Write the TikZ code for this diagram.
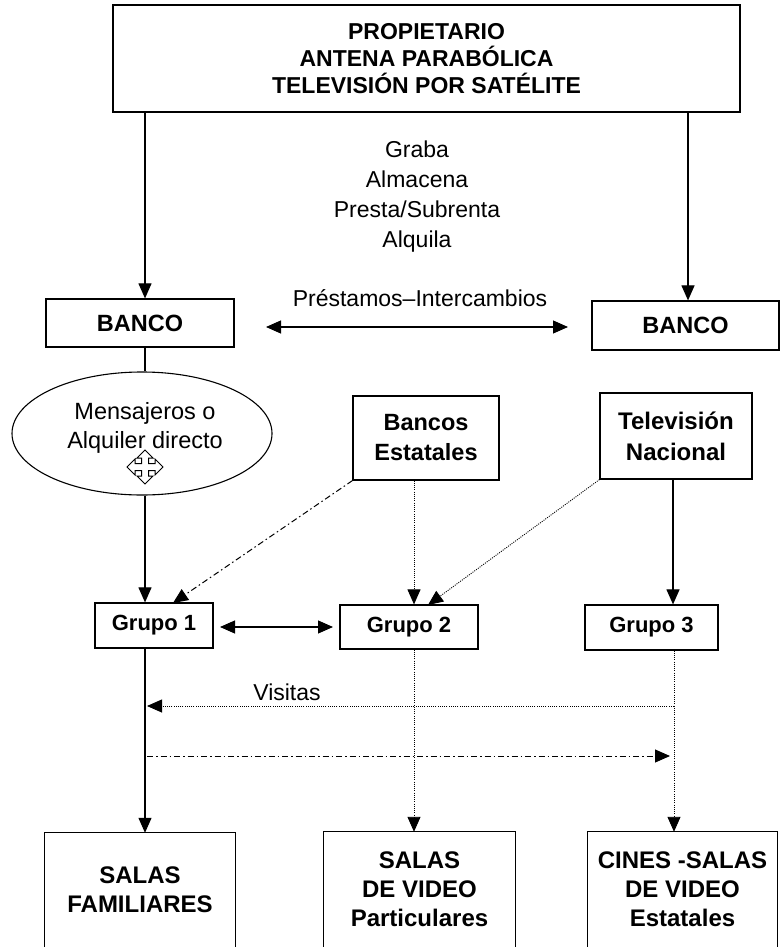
\documentclass[tikz,border=0pt]{standalone}
\usepackage{fontspec}
\setmainfont{Liberation Sans}
\usetikzlibrary{arrows.meta,shapes.geometric}
\begin{document}
\begin{tikzpicture}[x=1pt,y=-1pt,
  box/.style={draw,line width=1.2pt,align=center,inner sep=0pt,font=\bfseries\fontsize{23.5}{29}\selectfont},
  openbox/.style={draw=none,align=center,inner sep=0pt,font=\bfseries\fontsize{24}{29}\selectfont},
  lbl/.style={align=center,inner sep=0pt,font=\fontsize{23}{30}\selectfont},
  conn/.style={line width=1.1pt},
  arr/.style={line width=1.1pt,-{Triangle[length=15pt,width=13pt]}},
  darr/.style={line width=1.1pt,{Triangle[length=15pt,width=13pt]}-{Triangle[length=15pt,width=13pt]}},
  dotln/.style={line width=0.9pt,dash pattern=on 1pt off 1.2pt},
  dashdot/.style={line width=1pt,dash pattern=on 6pt off 3pt on 1.5pt off 3pt},
  tip/.style={-{Triangle[length=15pt,width=13pt]}}
]
\useasboundingbox (0,0) rectangle (779,947);
\fill[white] (0,0) rectangle (779,947);

% x positions
\coordinate (xL) at (145,0);
\coordinate (xR) at (688,0);
\coordinate (xG2) at (414,0);
\coordinate (xG3) at (674,0);

% nodes
\node[box,minimum width=627pt,minimum height=107pt,font=\bfseries\fontsize{23}{27}\selectfont] (top) at (426.5,58.5)
  {PROPIETARIO\\ANTENA PARABÓLICA\\TELEVISIÓN POR SATÉLITE};
\node[lbl] (acts) at (417,197) {Graba\\Almacena\\Presta/Subrenta\\Alquila};
\node[box,minimum width=188pt,minimum height=48pt] (bancoL) at (140,323) {BANCO};
\node[box,minimum width=187pt,minimum height=49pt] (bancoR) at (685.5,325.5) {BANCO};
\node[lbl] (prest) at (420,298) {Préstamos–Intercambios};
\node[draw,ellipse,line width=1.1pt,minimum width=260pt,minimum height=123pt,inner sep=0pt] (elip) at (142,433.5) {};
\node[lbl,font=\fontsize{23.5}{29}\selectfont] (eliptxt) at (145,427.5) {Mensajeros o\\Alquiler directo};
\node[box,minimum width=146pt,minimum height=84pt,font=\bfseries\fontsize{23.5}{30}\selectfont] (be) at (426,438) {Bancos\\Estatales};
\node[box,minimum width=152pt,minimum height=86pt,font=\bfseries\fontsize{24}{31}\selectfont] (tn) at (676,436) {Televisión\\Nacional};
\node[box,minimum width=118pt,minimum height=45pt,font=\bfseries\fontsize{22}{26}\selectfont] (g1) at (154,625.5) {Grupo 1};
\node[box,minimum width=138pt,minimum height=44pt,font=\bfseries\fontsize{22}{26}\selectfont] (g2) at (409,627) {Grupo 2};
\node[box,minimum width=133pt,minimum height=45pt,font=\bfseries\fontsize{22}{26}\selectfont] (g3) at (651.5,627.5) {Grupo 3};
\node[lbl] (vis) at (287,692) {Visitas};

\node[openbox,minimum width=190pt,minimum height=114pt] (s1) at (140,890) {SALAS\\FAMILIARES};
\node[openbox,minimum width=191pt,minimum height=115pt] (s2) at (419.5,889.5) {SALAS\\DE VIDEO\\Particulares};
\node[openbox,minimum width=189pt,minimum height=115pt] (s3) at (682.5,889.5) {CINES -SALAS\\DE VIDEO\\Estatales};
\foreach \b in {s1,s2,s3}
  \draw[line width=1.2pt] (\b.south west) -- (\b.north west) -- (\b.north east) -- (\b.south east);

% move icon
\node[inner sep=0pt,minimum size=1pt] (icon) at (145,467) {};
\draw[line width=1pt,fill=white,shift={(icon)}]
  (0,-17) -- (8,-9) -- (3.5,-9) -- (3.5,-3.5) -- (10,-3.5) -- (10,-8) -- (18,0) -- (10,8) -- (10,3.5) -- (3.5,3.5) -- (3.5,9) -- (8,9)
  -- (0,17) -- (-8,9) -- (-3.5,9) -- (-3.5,3.5) -- (-10,3.5) -- (-10,8) -- (-18,0) -- (-10,-8) -- (-10,-3.5) -- (-3.5,-3.5) -- (-3.5,-9) -- (-8,-9) -- cycle;

% connectors
\draw[arr] (top.south -| xL) -- (bancoL.north -| xL);
\draw[arr] (top.south -| xR) -- (bancoR.north -| xR);
\coordinate (pa) at (266,327);
\coordinate (pb) at (568,327);
\draw[darr] (pa) -- (pb);
\draw[conn] (bancoL.south -| xL) -- (elip.north -| xL);
\draw[arr] (elip.south -| xL) -- (g1.north -| xL);
\coordinate (g1in) at (173,603);
\draw[dashdot,tip] (be.south west) -- (g1in);
\draw[dotln,tip] (be.south -| xG2) -- (g2.north -| xG2);
\coordinate (g2in) at (428,605);
\draw[dotln,tip] (tn.south west) -- (g2in);
\coordinate (xT) at (673,0);
\draw[arr] (tn.south -| xT) -- (g3.north -| xT);
\coordinate (ga) at (220,627);
\coordinate (gb) at (333,627);
\draw[darr] (ga) -- (gb);

\draw[arr] (g1.south -| xL) -- (s1.north -| xL);
\draw[dotln,tip] (g2.south -| xG2) -- (s2.north -| xG2);
\draw[dotln,tip] (g3.south -| xG3) -- (s3.north -| xG3);

\coordinate (va) at (674,706);
\coordinate (vb) at (147,706);
\draw[dotln,tip] (va) -- (vb);
\coordinate (da) at (147,756);
\coordinate (db) at (670,756);
\draw[dashdot,tip] (da) -- (db);
\end{tikzpicture}
\end{document}
